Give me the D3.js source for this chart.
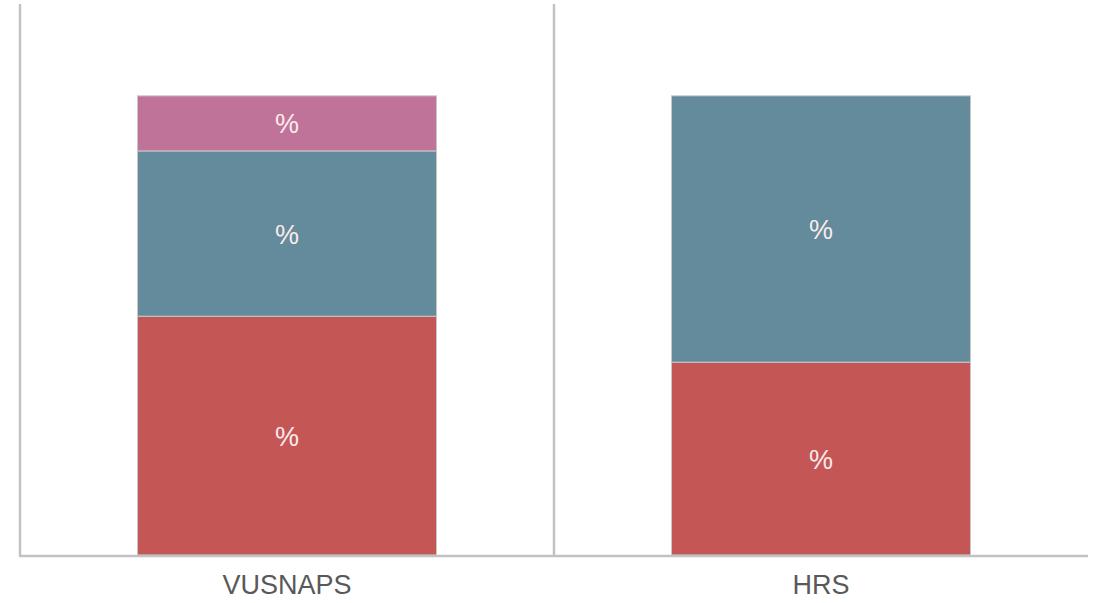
<!DOCTYPE html>
<html>
<head>
<meta charset="utf-8">
<script src="https://cdn.jsdelivr.net/npm/d3@7/dist/d3.min.js"></script>
<style>
  html, body { margin: 0; padding: 0; background: #ffffff; }
  svg { display: block; }
  text { font-family: "Liberation Sans", Arial, sans-serif; }
</style>
</head>
<body>
<svg id="chart" width="1104" height="603"></svg>
<script>
// Stacked shares per group (percent of group total)
const categories = ["VUSNAPS", "HRS"];
const seriesNames = ["first", "second", "third"];
const firstValues = [52, 42];
const secondValues = [36, 58];
const thirdValues = [12, 0];
const segmentLabels = ["%", "%", "%"];
const yTicks = [0, 120];

const colors = ["#c45756", "#638b9b", "#c07399"];

const svg = d3.select("#chart");
const margin = { left: 20, right: 16, top: 4, bottom: 48 };
const W = 1104, H = 603;

const x = d3.scaleBand()
  .domain(categories)
  .range([margin.left, W - margin.right])
  .paddingInner(0)
  .paddingOuter(0);

const y = d3.scaleLinear()
  .domain([yTicks[0], yTicks[yTicks.length - 1]])
  .range([H - margin.bottom, margin.top]);

const rows = categories.map((c, i) => ({
  cat: c, first: firstValues[i], second: secondValues[i], third: thirdValues[i]
}));
const stack = d3.stack().keys(seriesNames);
const layers = stack(rows);

const barFrac = 0.56;
const bw = x.bandwidth() * barFrac;

// group dividers (left edge of each band)
const axisG = svg.append("g");
categories.forEach(c => {
  axisG.append("line")
    .attr("x1", x(c)).attr("x2", x(c))
    .attr("y1", y.range()[1]).attr("y2", y.range()[0] + 1)
    .attr("stroke", "#c2c2c2").attr("stroke-width", 2.5);
});

// bars with segment labels
layers.forEach((layer, li) => {
  svg.append("g").selectAll("rect")
    .data(layer.filter(d => d[1] - d[0] > 0))
    .join("rect")
    .attr("x", d => x(d.data.cat) + (x.bandwidth() - bw) / 2)
    .attr("width", bw)
    .attr("y", d => y(d[1]))
    .attr("height", d => y(d[0]) - y(d[1]))
    .attr("fill", colors[li])
    .attr("stroke", "#c8c8c8")
    .attr("stroke-width", 1);

  svg.append("g").selectAll("text")
    .data(layer.filter(d => d[1] - d[0] > 0))
    .join("text")
    .attr("x", d => x(d.data.cat) + x.bandwidth() / 2)
    .attr("y", d => (y(d[0]) + y(d[1])) / 2 + 1)
    .attr("text-anchor", "middle")
    .attr("dominant-baseline", "central")
    .attr("font-size", 27)
    .attr("fill", "#fbeaea")
    .text(segmentLabels[li]);
});

// baseline
svg.append("line")
  .attr("x1", margin.left - 1).attr("x2", W - margin.right)
  .attr("y1", y(0) + 1).attr("y2", y(0) + 1)
  .attr("stroke", "#c2c2c2").attr("stroke-width", 2.5);

// category labels
svg.append("g").selectAll("text")
  .data(categories)
  .join("text")
  .attr("x", d => x(d) + x.bandwidth() / 2)
  .attr("y", 594)
  .attr("text-anchor", "middle")
  .attr("font-size", 27)
  .attr("fill", "#595959")
  .text(d => d);
</script>
</body>
</html>
